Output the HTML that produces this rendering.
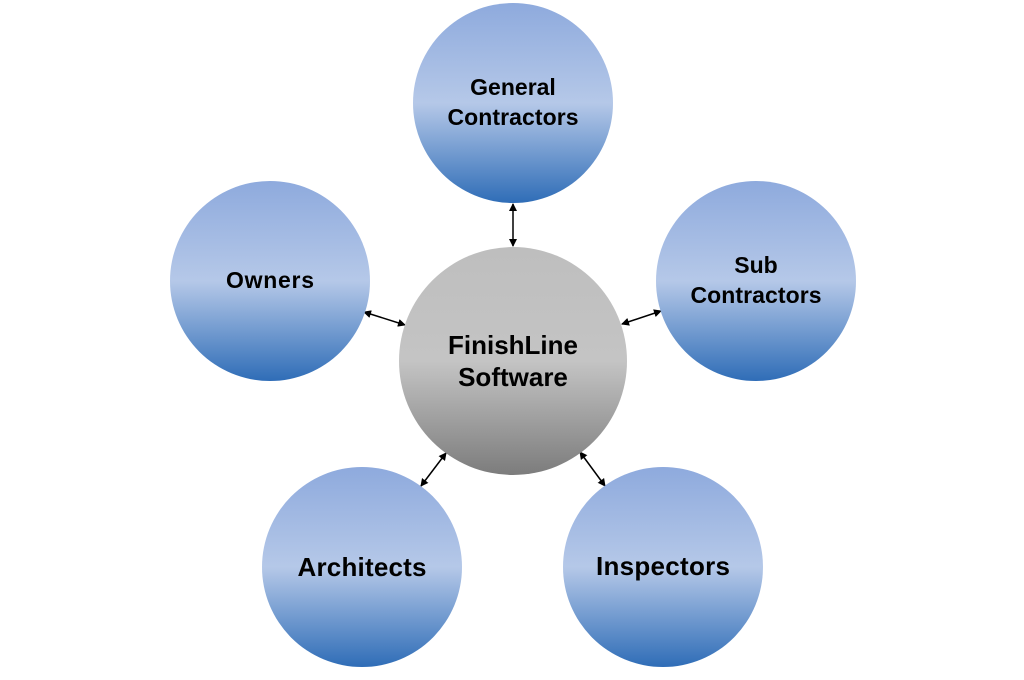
<!DOCTYPE html>
<html><head><style>
body{margin:0;background:#fff;width:1024px;height:675px;overflow:hidden}
</style></head><body>
<svg width="1024" height="675" viewBox="0 0 1024 675" xmlns="http://www.w3.org/2000/svg">
<defs>
<linearGradient id="b" x1="0" y1="0" x2="0" y2="1">
<stop offset="0" stop-color="#8eaadd"/>
<stop offset="0.5" stop-color="#b5c8e8"/>
<stop offset="1" stop-color="#2f6db7"/>
</linearGradient>
<linearGradient id="g" x1="0" y1="0" x2="0" y2="1">
<stop offset="0" stop-color="#bebebe"/>
<stop offset="0.5" stop-color="#c4c4c4"/>
<stop offset="1" stop-color="#7c7c7c"/>
</linearGradient>
<marker id="a" markerWidth="8" markerHeight="8" refX="7" refY="4" orient="auto-start-reverse" markerUnits="userSpaceOnUse">
<path d="M0,0 L8,4 L0,8 Z" fill="#000"/>
</marker>
</defs>
<g stroke="#000" stroke-width="1.5" marker-start="url(#a)" marker-end="url(#a)">
<line x1="513" y1="204" x2="513" y2="246"/>
<line x1="364" y1="312" x2="405" y2="325"/>
<line x1="622" y1="324" x2="661" y2="311"/>
<line x1="421" y1="486" x2="446" y2="453"/>
<line x1="580" y1="452" x2="605" y2="486"/>
</g>
<circle cx="513" cy="103" r="100" fill="url(#b)"/>
<circle cx="270" cy="281" r="100" fill="url(#b)"/>
<circle cx="756" cy="281" r="100" fill="url(#b)"/>
<circle cx="362" cy="567" r="100" fill="url(#b)"/>
<circle cx="663" cy="567" r="100" fill="url(#b)"/>
<circle cx="513" cy="361" r="114" fill="url(#g)"/>
<g font-family="Liberation Sans, sans-serif" font-weight="bold" text-anchor="middle" fill="#000">
<text x="513" y="95" font-size="23">General</text>
<text x="513" y="125" font-size="23" textLength="131">Contractors</text>
<text x="270" y="288" font-size="23" textLength="88">Owners</text>
<text x="756" y="273" font-size="23">Sub</text>
<text x="756" y="303" font-size="23" textLength="131">Contractors</text>
<text x="513" y="354" font-size="26" textLength="130">FinishLine</text>
<text x="513" y="386" font-size="26">Software</text>
<text x="362" y="576" font-size="26" textLength="129">Architects</text>
<text x="663" y="575" font-size="26" textLength="134">Inspectors</text>
</g>
</svg>
</body></html>
